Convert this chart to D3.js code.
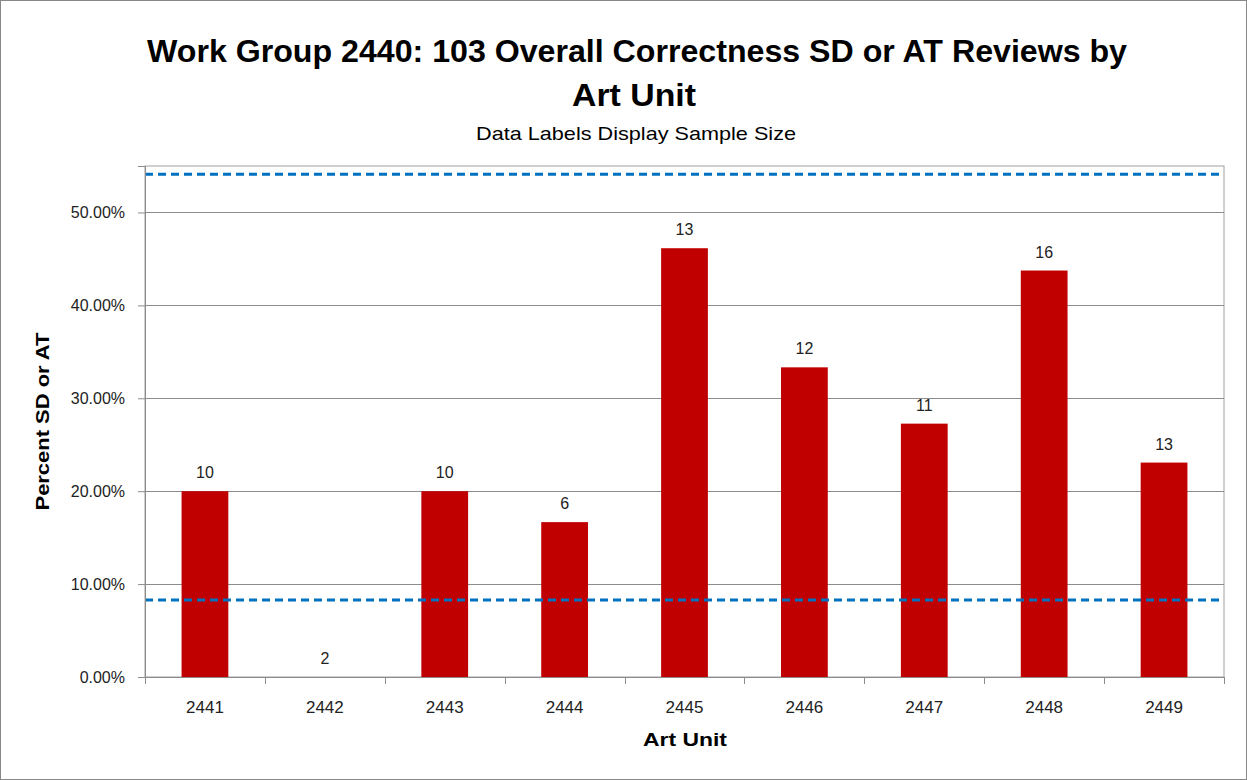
<!DOCTYPE html>
<html>
<head>
<meta charset="utf-8">
<script src="https://cdn.jsdelivr.net/npm/d3@7"></script>
<style>
  body { margin: 0; background: #fff; }
  text { font-family: "Liberation Sans", "DejaVu Sans", sans-serif; }
</style>
</head>
<body>
<div id="chart"></div>
<script>
// data
var artUnits = ["2441", "2442", "2443", "2444", "2445", "2446", "2447", "2448", "2449"];
var percentSD = [0.20, 0.0, 0.20, 0.1667, 0.4615, 0.3333, 0.2727, 0.4375, 0.2308];
var sampleSize = [10, 2, 10, 6, 13, 12, 11, 16, 13];
var yTicks = [0, 0.1, 0.2, 0.3, 0.4, 0.5];
var refLines = [0.541, 0.083];

(function () {
    var W = 1247, H = 780;
    var margin = { top: 166, left: 145, right: 23, bottom: 103 },
        width = W - margin.left - margin.right,
        height = H - margin.top - margin.bottom;

    var svg = d3.select("#chart")
        .append("svg")
        .attr("width", W)
        .attr("height", H);

    // outer frame
    svg.append("rect")
        .attr("x", 0.5).attr("y", 0.5)
        .attr("width", W - 1).attr("height", H - 1)
        .attr("fill", "#fff")
        .attr("stroke", "#888");

    // titles
    svg.append("text")
        .attr("x", 637).attr("y", 62)
        .attr("text-anchor", "middle")
        .attr("font-size", 31).attr("font-weight", "bold")
        .attr("textLength", 980).attr("lengthAdjust", "spacingAndGlyphs")
        .text("Work Group 2440: 103 Overall Correctness SD or AT Reviews by");
    svg.append("text")
        .attr("x", 634).attr("y", 106)
        .attr("text-anchor", "middle")
        .attr("font-size", 31).attr("font-weight", "bold")
        .attr("textLength", 124).attr("lengthAdjust", "spacingAndGlyphs")
        .text("Art Unit");
    svg.append("text")
        .attr("x", 636).attr("y", 140)
        .attr("text-anchor", "middle")
        .attr("font-size", 19)
        .attr("textLength", 320).attr("lengthAdjust", "spacingAndGlyphs")
        .text("Data Labels Display Sample Size");

    var g = svg.append("g")
        .attr("transform", "translate(" + margin.left + "," + margin.top + ")");

    var x = d3.scaleBand()
        .domain(artUnits)
        .range([0, width])
        .paddingInner(0.61)
        .paddingOuter(0.305);

    var y = d3.scaleLinear()
        .domain([0, 0.55])
        .range([height, 0]);

    // plot frame
    g.append("rect")
        .attr("x", 0).attr("y", 0)
        .attr("width", width).attr("height", height)
        .attr("fill", "none")
        .attr("stroke", "#a0a0a0");

    // gridlines
    g.selectAll(".grid")
        .data(yTicks)
        .enter().append("line")
        .attr("class", "grid")
        .attr("x1", 0).attr("x2", width)
        .attr("y1", function (d) { return Math.round(y(d)) + 0.5; })
        .attr("y2", function (d) { return Math.round(y(d)) + 0.5; })
        .attr("stroke", "#8c8c8c");

    // bars
    g.selectAll(".bar")
        .data(artUnits)
        .enter().append("rect")
        .attr("class", "bar")
        .attr("x", function (d) { return x(d); })
        .attr("width", x.bandwidth())
        .attr("y", function (d, i) { return y(percentSD[i]); })
        .attr("height", function (d, i) { return height - y(percentSD[i]); })
        .attr("fill", "#c00000");

    // reference lines
    g.selectAll(".ref")
        .data(refLines)
        .enter().append("line")
        .attr("class", "ref")
        .attr("x1", 0).attr("x2", width)
        .attr("y1", function (d) { return y(d); })
        .attr("y2", function (d) { return y(d); })
        .attr("stroke", "#0070c0")
        .attr("stroke-width", 3)
        .attr("stroke-dasharray", "8,5");

    // data labels
    g.selectAll(".lbl")
        .data(artUnits)
        .enter().append("text")
        .attr("class", "lbl")
        .attr("x", function (d) { return x(d) + x.bandwidth() / 2; })
        .attr("y", function (d, i) { return y(percentSD[i]) - 13; })
        .attr("text-anchor", "middle")
        .attr("font-size", 16)
        .attr("fill", "#222")
        .text(function (d, i) { return sampleSize[i]; });

    // y axis
    var yAxis = g.append("g")
        .call(d3.axisLeft(y).tickValues(yTicks).tickSize(7).tickFormat(d3.format(".2%")));
    yAxis.select(".domain").attr("stroke", "#8c8c8c");
    yAxis.selectAll(".tick line").attr("stroke", "#8c8c8c");
    yAxis.selectAll("text")
        .attr("font-size", 16).attr("fill", "#222")
        .attr("font-family", "Liberation Sans, sans-serif")
        .attr("x", -20);

    // x axis with ticks at category boundaries
    var xAxis = g.append("g")
        .attr("transform", "translate(0," + height + ")")
        .call(d3.axisBottom(x).tickSize(0).tickPadding(24));
    xAxis.select(".domain").attr("stroke", "#8c8c8c");
    xAxis.selectAll("text")
        .attr("font-size", 17).attr("fill", "#222")
        .attr("font-family", "Liberation Sans, sans-serif");
    var bounds = d3.range(artUnits.length + 1).map(function (i) { return i * x.step(); });
    xAxis.selectAll(".bound")
        .data(bounds)
        .enter().append("line")
        .attr("class", "bound")
        .attr("x1", function (d) { return Math.round(d) + 0.5; })
        .attr("x2", function (d) { return Math.round(d) + 0.5; })
        .attr("y1", 0).attr("y2", 7)
        .attr("stroke", "#8c8c8c");

    // axis titles
    svg.append("text")
        .attr("transform", "translate(49," + (margin.top + height / 2) + ") rotate(-90)")
        .attr("text-anchor", "middle")
        .attr("font-size", 19).attr("font-weight", "bold")
        .attr("textLength", 178).attr("lengthAdjust", "spacingAndGlyphs")
        .text("Percent SD or AT");
    svg.append("text")
        .attr("x", 685).attr("y", 746)
        .attr("text-anchor", "middle")
        .attr("font-size", 19).attr("font-weight", "bold")
        .attr("textLength", 84).attr("lengthAdjust", "spacingAndGlyphs")
        .text("Art Unit");
})();
</script>
</body>
</html>
